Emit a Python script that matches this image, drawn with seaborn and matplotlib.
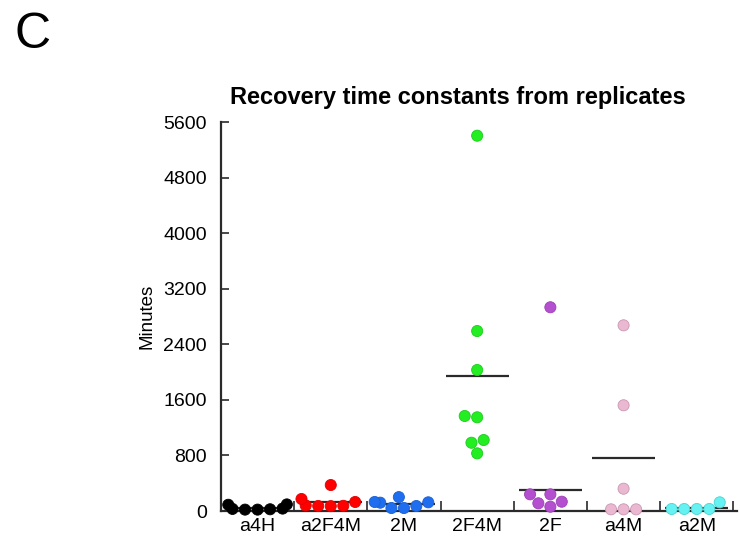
import matplotlib
matplotlib.use("Agg")
import matplotlib.pyplot as plt
import numpy as np
import pandas as pd
import seaborn as sns
from matplotlib.ticker import FixedLocator, NullFormatter

# Replicate recovery time constants (minutes) per construct
categories = ["a4H", "a2F4M", "2M", "2F4M", "2F", "a4M", "a2M"]
a4H = [20, 95, 25, 90, 30, 20, 35]
a2F4M = [374, 70, 80, 75, 72, 173, 130]
m2M = [120, 200, 43, 130, 43, 72, 125]
m2F4M = [5403, 2591, 2030, 1368, 1349, 983, 1022, 830]
m2F = [2933, 240, 111, 62, 134, 240]
a4M = [2673, 1522, 321, 24, 24, 24]
a2M = [29, 29, 29, 29, 125]

# Horizontal summary line height for each construct
summary = [43, 135, 100, 1948, 302, 767, 39]

colors = ["#000000", "#ff0000", "#1f6ef0", "#22ee22", "#b44fd0", "#ebb8d2", "#66f2f2"]
edgecolors = ["#000000", "#e00000", "#1a5fd0", "#1ccc1c", "#9c3fb6", "#c898b2", "#4cd4d4"]

groups = [a4H, a2F4M, m2M, m2F4M, m2F, a4M, a2M]
df = pd.DataFrame({
    "construct": np.repeat(categories, [len(g) for g in groups]),
    "minutes": np.concatenate(groups),
})

sns.set_style("white", {"xtick.bottom": True, "ytick.left": True,
                        "text.color": "black", "axes.labelcolor": "black",
                        "xtick.color": "black", "ytick.color": "black"})
plt.rcParams["font.family"] = ["Liberation Sans", "DejaVu Sans"]

fig = plt.figure(figsize=(7.4, 5.37), dpi=100)
ax = fig.add_axes([0.2986, 0.0484, 0.6974, 0.7244])

sns.swarmplot(data=df, x="construct", y="minutes", hue="construct",
              order=categories, hue_order=categories, palette=colors,
              size=8.0, linewidth=0.6, legend=False, ax=ax)
for coll, ec in zip(ax.collections, edgecolors):
    coll.set_edgecolor(ec)
    coll.set_clip_on(False)
    coll.set_zorder(3)

for i, v in enumerate(summary):
    ax.plot([i - 0.43, i + 0.43], [v, v], color="#2a2a2a", lw=1.6,
            solid_capstyle="butt", zorder=2)

ax.set_xlim(-0.5, 6.55)
ax.set_ylim(0, 5600)
ax.set_yticks(np.arange(0, 5601, 800))
ax.set_xticks(range(len(categories)))
ax.set_xticklabels(categories)
ax.xaxis.set_minor_locator(FixedLocator(np.arange(0.5, 6.6, 1.0)))
ax.xaxis.set_minor_formatter(NullFormatter())

for s in ["top", "right"]:
    ax.spines[s].set_visible(False)
for s in ["left", "bottom"]:
    ax.spines[s].set_color("#2a2a2a")
    ax.spines[s].set_linewidth(1.6)

ax.tick_params(axis="x", which="major", bottom=False, length=0, labelsize=14,
               pad=5, labelcolor="black")
ax.tick_params(axis="x", which="minor", bottom=True, direction="in", length=7,
               width=1.2, color="#2a2a2a")
ax.tick_params(axis="y", left=True, direction="in", length=6, width=1.2,
               color="#2a2a2a", labelsize=14, pad=10, labelcolor="black")
ax.set_xlabel("")
ax.set_ylabel("Minutes", fontsize=13.5, labelpad=6, color="black")
ax.set_title("Recovery time constants from replicates", fontsize=17,
             fontweight="bold", pad=13, color="black", x=0.46)

fig.text(0.02, 0.978, "C", fontsize=36, va="top", ha="left", color="black")

fig.savefig("out.png", dpi=100)
